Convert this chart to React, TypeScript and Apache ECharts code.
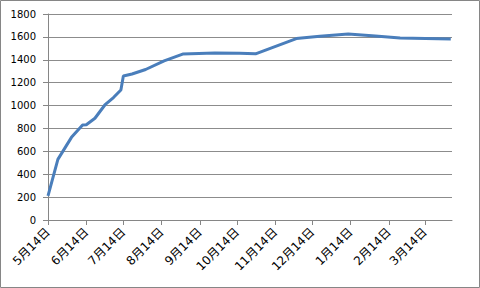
import React, { useEffect, useRef } from "react";
import * as echarts from "echarts";

const startDate = "2011-05-14";
const endDate = "2012-04-05";

const pointDates = [
  "2011-05-14", "2011-05-22", "2011-06-02", "2011-06-11", "2011-06-14",
  "2011-06-21", "2011-06-29", "2011-07-06", "2011-07-12", "2011-07-14",
  "2011-07-21", "2011-08-01", "2011-08-16", "2011-08-31", "2011-09-26",
  "2011-10-16", "2011-10-29", "2011-12-01", "2011-12-20", "2012-01-12",
  "2012-02-03", "2012-02-23", "2012-04-04",
];
const pointValues = [
  210, 530, 722, 830, 832,
  889, 1005, 1070, 1136, 1258,
  1276, 1315, 1390, 1450, 1460,
  1456, 1452, 1585, 1605, 1625,
  1608, 1590, 1582,
];

const tickDates = [
  "2011-05-14", "2011-06-14", "2011-07-14", "2011-08-14", "2011-09-14",
  "2011-10-14", "2011-11-14", "2011-12-14", "2012-01-14", "2012-02-14",
  "2012-03-14",
];
const tickLabels = [
  "5月14日", "6月14日", "7月14日", "8月14日", "9月14日",
  "10月14日", "11月14日", "12月14日", "1月14日", "2月14日", "3月14日",
];

const yTicks = [0, 200, 400, 600, 800, 1000, 1200, 1400, 1600, 1800];

const dayOf = (s: string) => {
  const [y, m, d] = s.split("-").map(Number);
  const [y0, m0, d0] = startDate.split("-").map(Number);
  return Math.round((Date.UTC(y, m - 1, d) - Date.UTC(y0, m0 - 1, d0)) / 86400000);
};

export default function App() {
  const ref = useRef<HTMLDivElement>(null);
  useEffect(() => {
    document.body.style.margin = "0";
    if (!ref.current) return;
    const chart = echarts.init(ref.current, null, { renderer: "svg" });
    const tickDays = tickDates.map(dayOf);
    const labelMap: Record<number, string> = {};
    tickDays.forEach((d, i) => (labelMap[d] = tickLabels[i]));
    chart.setOption({
      animation: false,
      backgroundColor: "#ffffff",
      graphic: [
        {
          type: "rect",
          shape: { x: 0.5, y: 0.5, width: 479, height: 287 },
          style: { fill: "none", stroke: "#868686", lineWidth: 1 },
          silent: true,
        },
      ],
      grid: { left: 48, right: 28, top: 14, bottom: 68 },
      xAxis: {
        type: "value",
        min: 0,
        max: dayOf(endDate),
        splitLine: { show: false },
        axisLine: { show: true, lineStyle: { color: "#868686", width: 1 } },
        axisTick: {
          show: true,
          length: 5,
          customValues: tickDays,
          lineStyle: { color: "#868686" },
        },
        axisLabel: {
          customValues: tickDays,
          rotate: 45,
          margin: 10,
          fontSize: 12,
          color: "#000",
          fontFamily: "DejaVu Sans, 'Noto Sans CJK JP'",
          formatter: (v: number) => labelMap[Math.round(v)] ?? "",
        },
      },
      yAxis: {
        type: "value",
        min: 0,
        max: 1800,
        interval: 200,
        axisLine: { show: true, lineStyle: { color: "#868686", width: 1 } },
        axisTick: { show: true, length: 5, lineStyle: { color: "#868686" } },
        splitLine: { show: true, lineStyle: { color: "#8c8c8c", width: 1 } },
        axisLabel: {
          customValues: yTicks,
          margin: 12,
          fontSize: 10,
          color: "#000",
          fontFamily: "DejaVu Sans",
          formatter: (v: number) => String(v),
        },
      },
      series: [
        {
          type: "line",
          data: pointDates.map((d, i) => [dayOf(d), pointValues[i]]),
          symbol: "none",
          lineStyle: { color: "#4a7ebb", width: 3 },
          itemStyle: { color: "#4a7ebb" },
        },
      ],
    });
    return () => chart.dispose();
  }, []);
  return <div ref={ref} style={{ width: 480, height: 288 }} />;
}
